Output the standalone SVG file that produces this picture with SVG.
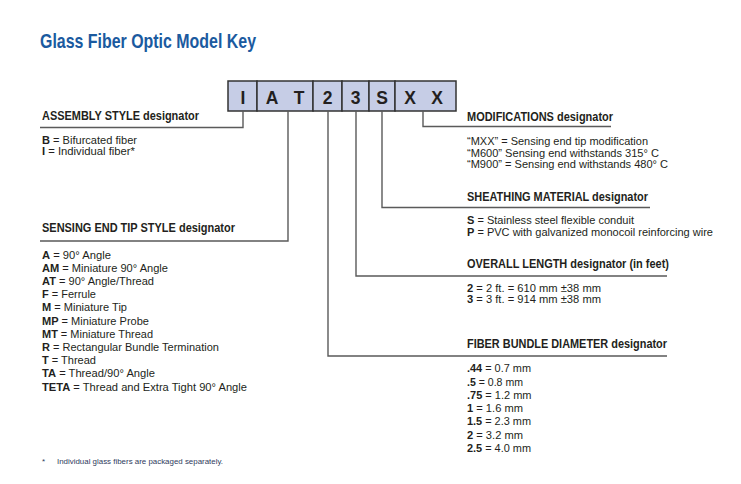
<svg xmlns="http://www.w3.org/2000/svg" width="741" height="484" viewBox="0 0 741 484">
<style>
  text { font-family: "Liberation Sans", Arial, sans-serif; fill: #231f20; }
  .title { font-size: 21px; font-weight: bold; fill: #1b5a9f; }
  .code { font-size: 17.5px; font-weight: bold; text-anchor: middle; }
  .head { font-size: 12px; font-weight: bold; }
  .body { font-size: 11.5px; }
  .b { font-weight: bold; }
  .foot { font-size: 8px; fill: #2e3a5c; }
  .cell { fill: #c6cde6; stroke: #333; stroke-width: 1.5; }
  .conn { fill: none; stroke: #5a5a5a; stroke-width: 1.4; }
</style>
<rect width="741" height="484" fill="#fff"/>

<text class="title" x="40" y="48" textLength="216" lengthAdjust="spacingAndGlyphs">Glass Fiber Optic Model Key</text>

<g id="model-code">
  <rect class="cell" x="228" y="81" width="29" height="30"/>
  <rect class="cell" x="257" y="81" width="56" height="30"/>
  <rect class="cell" x="313" y="81" width="29" height="30"/>
  <rect class="cell" x="342" y="81" width="27" height="30"/>
  <rect class="cell" x="369" y="81" width="26" height="30"/>
  <rect class="cell" x="395" y="81" width="61" height="30"/>
  <text class="code" x="243" y="103.5">I</text>
  <text class="code" x="272" y="103.5">A</text>
  <text class="code" x="299" y="103.5">T</text>
  <text class="code" x="327.5" y="103.5">2</text>
  <text class="code" x="355.5" y="103.5">3</text>
  <text class="code" x="382" y="103.5">S</text>
  <text class="code" x="410" y="103.5">X</text>
  <text class="code" x="437" y="103.5">X</text>
</g>

<g id="connectors">
  <polyline class="conn" points="243,111 243,127.5 40,127.5"/>
  <polyline class="conn" points="288,111 288,241 40,241"/>
  <polyline class="conn" points="328,111 328,356 667,356"/>
  <polyline class="conn" points="356,111 356,276 667,276"/>
  <polyline class="conn" points="382,111 382,207.5 650,207.5"/>
  <polyline class="conn" points="423,111 423,126.5 611,126.5"/>
</g>

<g id="assembly-style">
  <text class="head" x="42" y="120" textLength="157" lengthAdjust="spacingAndGlyphs">ASSEMBLY STYLE designator</text>
  <text class="body" x="42" y="143.5" textLength="95" lengthAdjust="spacingAndGlyphs"><tspan class="b">B</tspan> = Bifurcated fiber</text>
  <text class="body" x="42" y="155" textLength="93" lengthAdjust="spacingAndGlyphs"><tspan class="b">I</tspan> = Individual fiber*</text>
</g>

<g id="sensing-end-tip-style">
  <text class="head" x="42" y="232" textLength="193" lengthAdjust="spacingAndGlyphs">SENSING END TIP STYLE designator</text>
  <text class="body" x="42" y="258.5" textLength="69" lengthAdjust="spacingAndGlyphs"><tspan class="b">A</tspan> = 90° Angle</text>
  <text class="body" x="42" y="271.7" textLength="126" lengthAdjust="spacingAndGlyphs"><tspan class="b">AM</tspan> = Miniature 90° Angle</text>
  <text class="body" x="42" y="284.9" textLength="112" lengthAdjust="spacingAndGlyphs"><tspan class="b">AT</tspan> = 90° Angle/Thread</text>
  <text class="body" x="42" y="298.1" textLength="54" lengthAdjust="spacingAndGlyphs"><tspan class="b">F</tspan> = Ferrule</text>
  <text class="body" x="42" y="311.3" textLength="85" lengthAdjust="spacingAndGlyphs"><tspan class="b">M</tspan> = Miniature Tip</text>
  <text class="body" x="42" y="324.5" textLength="107" lengthAdjust="spacingAndGlyphs"><tspan class="b">MP</tspan> = Miniature Probe</text>
  <text class="body" x="42" y="337.7" textLength="111" lengthAdjust="spacingAndGlyphs"><tspan class="b">MT</tspan> = Miniature Thread</text>
  <text class="body" x="42" y="350.9" textLength="177" lengthAdjust="spacingAndGlyphs"><tspan class="b">R</tspan> = Rectangular Bundle Termination</text>
  <text class="body" x="42" y="364.1" textLength="54" lengthAdjust="spacingAndGlyphs"><tspan class="b">T</tspan> = Thread</text>
  <text class="body" x="42" y="377.3" textLength="113" lengthAdjust="spacingAndGlyphs"><tspan class="b">TA</tspan> = Thread/90° Angle</text>
  <text class="body" x="42" y="390.5" textLength="205" lengthAdjust="spacingAndGlyphs"><tspan class="b">TETA</tspan> = Thread and Extra Tight 90° Angle</text>
</g>

<g id="modifications">
  <text class="head" x="467" y="121" textLength="146" lengthAdjust="spacingAndGlyphs">MODIFICATIONS designator</text>
  <text class="body" x="467" y="145" textLength="181" lengthAdjust="spacingAndGlyphs">“MXX” = Sensing end tip modification</text>
  <text class="body" x="467" y="156.7" textLength="192" lengthAdjust="spacingAndGlyphs">“M600” Sensing end withstands 315° C</text>
  <text class="body" x="467" y="168.4" textLength="201" lengthAdjust="spacingAndGlyphs">“M900” = Sensing end withstands 480° C</text>
</g>

<g id="sheathing-material">
  <text class="head" x="467" y="200.5" textLength="181" lengthAdjust="spacingAndGlyphs">SHEATHING MATERIAL designator</text>
  <text class="body" x="467" y="224" textLength="167" lengthAdjust="spacingAndGlyphs"><tspan class="b">S</tspan> = Stainless steel flexible conduit</text>
  <text class="body" x="467" y="236" textLength="246" lengthAdjust="spacingAndGlyphs"><tspan class="b">P</tspan> = PVC with galvanized monocoil reinforcing wire</text>
</g>

<g id="overall-length">
  <text class="head" x="467" y="267.5" textLength="202" lengthAdjust="spacingAndGlyphs">OVERALL LENGTH designator (in feet)</text>
  <text class="body" x="467" y="291.7" textLength="134" lengthAdjust="spacingAndGlyphs"><tspan class="b">2</tspan> = 2 ft. = 610 mm ±38 mm</text>
  <text class="body" x="467" y="303.4" textLength="134" lengthAdjust="spacingAndGlyphs"><tspan class="b">3</tspan> = 3 ft. = 914 mm ±38 mm</text>
</g>

<g id="fiber-bundle-diameter">
  <text class="head" x="467" y="347.5" textLength="200" lengthAdjust="spacingAndGlyphs">FIBER BUNDLE DIAMETER designator</text>
  <text class="body" x="467" y="372.3" textLength="64" lengthAdjust="spacingAndGlyphs"><tspan class="b">.44</tspan> = 0.7 mm</text>
  <text class="body" x="467" y="385.5" textLength="56" lengthAdjust="spacingAndGlyphs"><tspan class="b">.5</tspan> = 0.8 mm</text>
  <text class="body" x="467" y="398.8" textLength="64.5" lengthAdjust="spacingAndGlyphs"><tspan class="b">.75</tspan> = 1.2 mm</text>
  <text class="body" x="467" y="412" textLength="56" lengthAdjust="spacingAndGlyphs"><tspan class="b">1</tspan> = 1.6 mm</text>
  <text class="body" x="467" y="425.2" textLength="64" lengthAdjust="spacingAndGlyphs"><tspan class="b">1.5</tspan> = 2.3 mm</text>
  <text class="body" x="467" y="438.5" textLength="56" lengthAdjust="spacingAndGlyphs"><tspan class="b">2</tspan> = 3.2 mm</text>
  <text class="body" x="467" y="451.7" textLength="64" lengthAdjust="spacingAndGlyphs"><tspan class="b">2.5</tspan> = 4.0 mm</text>
</g>

<g id="footnote">
  <text class="foot" x="42" y="464">*</text>
  <text class="foot" x="57" y="464" textLength="166" lengthAdjust="spacingAndGlyphs">Individual glass fibers are packaged separately.</text>
</g>
</svg>
